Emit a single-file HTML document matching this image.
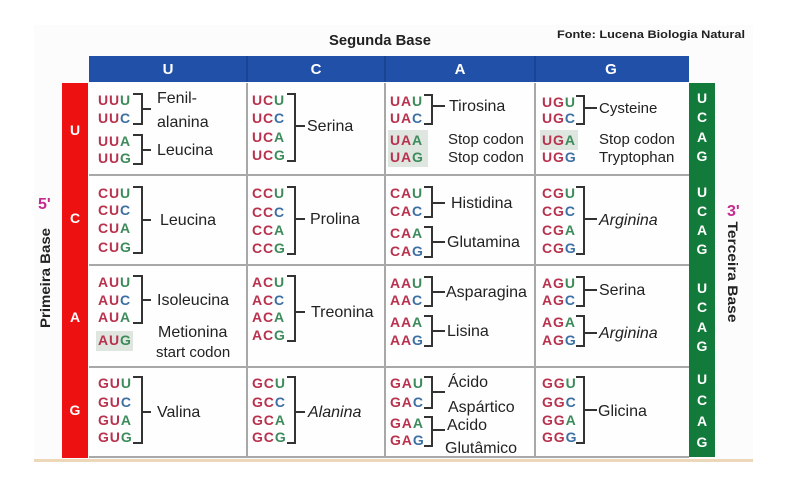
<!DOCTYPE html>
<html><head><meta charset="utf-8"><style>
html,body{margin:0;padding:0;background:#fff;}
svg{display:block;}
.c{font-family:"Liberation Sans",sans-serif;font-weight:bold;font-size:14px;letter-spacing:0.9px;}
.r{fill:#b8324e}.g{fill:#3d8b5b}.b{fill:#3c6fa3}
.n{font-family:"Liberation Sans",sans-serif;font-size:16px;fill:#222;}
.s{font-family:"Liberation Sans",sans-serif;font-size:15px;fill:#222;}
.w{font-family:"Liberation Sans",sans-serif;font-weight:bold;font-size:14px;fill:#fff;text-anchor:middle;}
.h{font-family:"Liberation Sans",sans-serif;font-weight:bold;font-size:15px;fill:#fff;text-anchor:middle;}
.br{fill:none;stroke:#333;stroke-width:2;}
</style></head><body>
<svg width="806" height="500" viewBox="0 0 806 500" xmlns="http://www.w3.org/2000/svg">
<rect x="0" y="0" width="806" height="500" fill="#fff"/>
<rect x="34" y="25" width="719" height="434" fill="#fcfcfc"/>
<rect x="89" y="83" width="600" height="375" fill="#fefefe"/>
<!-- header -->
<rect x="89" y="56" width="600" height="26" fill="#2150a8"/>
<line x1="247" y1="56" x2="247" y2="82" stroke="#183f8a" stroke-width="1.5"/>
<line x1="385" y1="56" x2="385" y2="82" stroke="#183f8a" stroke-width="1.5"/>
<line x1="535" y1="56" x2="535" y2="82" stroke="#183f8a" stroke-width="1.5"/>
<text class="h" x="168" y="74">U</text>
<text class="h" x="316" y="74">C</text>
<text class="h" x="460" y="74">A</text>
<text class="h" x="611" y="74">G</text>
<!-- grid -->
<g stroke="#a8a8a8" stroke-width="2">
<line x1="247" y1="83" x2="247" y2="458"/>
<line x1="385" y1="83" x2="385" y2="458"/>
<line x1="535" y1="83" x2="535" y2="458"/>
<line x1="89" y1="175" x2="689" y2="175"/>
<line x1="89" y1="265" x2="689" y2="265"/>
<line x1="89" y1="367" x2="689" y2="367"/>
<line x1="89" y1="457" x2="689" y2="457"/>
</g>
<!-- red bar -->
<rect x="62" y="83" width="26" height="375" fill="#ee1111"/>
<text class="w" x="75" y="135">U</text>
<text class="w" x="75" y="223">C</text>
<text class="w" x="75" y="322">A</text>
<text class="w" x="75" y="415">G</text>
<!-- green bar -->
<rect x="689" y="83" width="26" height="374" fill="#127a3a"/>
<text class="w" x="702" y="103">U</text><text class="w" x="702" y="122">C</text><text class="w" x="702" y="142">A</text><text class="w" x="702" y="161">G</text>
<text class="w" x="702" y="197">U</text><text class="w" x="702" y="216">C</text><text class="w" x="702" y="235">A</text><text class="w" x="702" y="254">G</text>
<text class="w" x="702" y="293">U</text><text class="w" x="702" y="312">C</text><text class="w" x="702" y="332">A</text><text class="w" x="702" y="351">G</text>
<text class="w" x="702" y="384">U</text><text class="w" x="702" y="405">C</text><text class="w" x="702" y="426">A</text><text class="w" x="702" y="447">G</text>
<!-- tan line -->
<rect x="34" y="459" width="719" height="3" fill="#ecd7b8"/>
<!-- titles -->
<text x="329" y="45" textLength="102" lengthAdjust="spacingAndGlyphs" style="font-family:'Liberation Sans',sans-serif;font-weight:bold;font-size:15px;fill:#222;">Segunda Base</text>
<text x="557" y="38" textLength="188" lengthAdjust="spacingAndGlyphs" style="font-family:'Liberation Sans',sans-serif;font-weight:bold;font-size:11px;fill:#222;">Fonte: Lucena Biologia Natural</text>
<text x="38" y="209" style="font-family:'Liberation Sans',sans-serif;font-weight:bold;font-size:16px;fill:#c42a8f;">5'</text>
<text x="727" y="216" style="font-family:'Liberation Sans',sans-serif;font-weight:bold;font-size:16px;fill:#c42a8f;">3'</text>
<text transform="translate(50,278) rotate(-90)" text-anchor="middle" textLength="100" lengthAdjust="spacingAndGlyphs" style="font-family:'Liberation Sans',sans-serif;font-weight:bold;font-size:14px;fill:#222;">Primeira Base</text>
<text transform="translate(728,272) rotate(90)" text-anchor="middle" textLength="101" lengthAdjust="spacingAndGlyphs" style="font-family:'Liberation Sans',sans-serif;font-weight:bold;font-size:14px;fill:#222;">Terceira Base</text>
<!-- shaded codon boxes -->
<rect x="388" y="130" width="40" height="37" fill="#dfe6e0"/>
<rect x="540" y="130" width="38" height="20" fill="#dfe6e0"/>
<rect x="96" y="331" width="37" height="20" fill="#dfe6e0"/>
<!-- codons col U -->
<text class="c" x="98" y="105"><tspan class="r">UU</tspan><tspan class="g">U</tspan></text>
<text class="c" x="98" y="123"><tspan class="r">UU</tspan><tspan class="b">C</tspan></text>
<text class="c" x="98" y="146"><tspan class="r">UU</tspan><tspan class="g">A</tspan></text>
<text class="c" x="98" y="163"><tspan class="r">UU</tspan><tspan class="g">G</tspan></text>
<text class="c" x="98" y="198"><tspan class="r">CU</tspan><tspan class="g">U</tspan></text>
<text class="c" x="98" y="215"><tspan class="r">CU</tspan><tspan class="b">C</tspan></text>
<text class="c" x="98" y="233"><tspan class="r">CU</tspan><tspan class="g">A</tspan></text>
<text class="c" x="98" y="252"><tspan class="r">CU</tspan><tspan class="g">G</tspan></text>
<text class="c" x="98" y="287"><tspan class="r">AU</tspan><tspan class="g">U</tspan></text>
<text class="c" x="98" y="305"><tspan class="r">AU</tspan><tspan class="b">C</tspan></text>
<text class="c" x="98" y="322"><tspan class="r">AU</tspan><tspan class="g">A</tspan></text>
<text class="c" x="98" y="345"><tspan class="r">AU</tspan><tspan class="g">G</tspan></text>
<text class="c" x="98" y="388"><tspan class="r">GU</tspan><tspan class="g">U</tspan></text>
<text class="c" x="98" y="407"><tspan class="r">GU</tspan><tspan class="b">C</tspan></text>
<text class="c" x="98" y="425"><tspan class="r">GU</tspan><tspan class="g">A</tspan></text>
<text class="c" x="98" y="442"><tspan class="r">GU</tspan><tspan class="g">G</tspan></text>
<!-- codons col C -->
<text class="c" x="252" y="105"><tspan class="r">UC</tspan><tspan class="g">U</tspan></text>
<text class="c" x="252" y="123"><tspan class="r">UC</tspan><tspan class="b">C</tspan></text>
<text class="c" x="252" y="142"><tspan class="r">UC</tspan><tspan class="g">A</tspan></text>
<text class="c" x="252" y="160"><tspan class="r">UC</tspan><tspan class="g">G</tspan></text>
<text class="c" x="252" y="198"><tspan class="r">CC</tspan><tspan class="g">U</tspan></text>
<text class="c" x="252" y="217"><tspan class="r">CC</tspan><tspan class="b">C</tspan></text>
<text class="c" x="252" y="235"><tspan class="r">CC</tspan><tspan class="g">A</tspan></text>
<text class="c" x="252" y="253"><tspan class="r">CC</tspan><tspan class="g">G</tspan></text>
<text class="c" x="252" y="287"><tspan class="r">AC</tspan><tspan class="g">U</tspan></text>
<text class="c" x="252" y="305"><tspan class="r">AC</tspan><tspan class="b">C</tspan></text>
<text class="c" x="252" y="322"><tspan class="r">AC</tspan><tspan class="g">A</tspan></text>
<text class="c" x="252" y="340"><tspan class="r">AC</tspan><tspan class="g">G</tspan></text>
<text class="c" x="252" y="388"><tspan class="r">GC</tspan><tspan class="g">U</tspan></text>
<text class="c" x="252" y="407"><tspan class="r">GC</tspan><tspan class="b">C</tspan></text>
<text class="c" x="252" y="425"><tspan class="r">GC</tspan><tspan class="g">A</tspan></text>
<text class="c" x="252" y="442"><tspan class="r">GC</tspan><tspan class="g">G</tspan></text>
<!-- codons col A -->
<text class="c" x="390" y="106"><tspan class="r">UA</tspan><tspan class="g">U</tspan></text>
<text class="c" x="390" y="123"><tspan class="r">UA</tspan><tspan class="b">C</tspan></text>
<text class="c" x="390" y="145"><tspan class="r">UA</tspan><tspan class="g">A</tspan></text>
<text class="c" x="390" y="162"><tspan class="r">UA</tspan><tspan class="g">G</tspan></text>
<text class="c" x="390" y="198"><tspan class="r">CA</tspan><tspan class="g">U</tspan></text>
<text class="c" x="390" y="216"><tspan class="r">CA</tspan><tspan class="b">C</tspan></text>
<text class="c" x="390" y="238"><tspan class="r">CA</tspan><tspan class="g">A</tspan></text>
<text class="c" x="390" y="256"><tspan class="r">CA</tspan><tspan class="b">G</tspan></text>
<text class="c" x="390" y="288"><tspan class="r">AA</tspan><tspan class="g">U</tspan></text>
<text class="c" x="390" y="305"><tspan class="r">AA</tspan><tspan class="b">C</tspan></text>
<text class="c" x="390" y="327"><tspan class="r">AA</tspan><tspan class="g">A</tspan></text>
<text class="c" x="390" y="345"><tspan class="r">AA</tspan><tspan class="b">G</tspan></text>
<text class="c" x="390" y="388"><tspan class="r">GA</tspan><tspan class="g">U</tspan></text>
<text class="c" x="390" y="407"><tspan class="r">GA</tspan><tspan class="b">C</tspan></text>
<text class="c" x="390" y="428"><tspan class="r">GA</tspan><tspan class="g">A</tspan></text>
<text class="c" x="390" y="445"><tspan class="r">GA</tspan><tspan class="b">G</tspan></text>
<!-- codons col G -->
<text class="c" x="542" y="107"><tspan class="r">UG</tspan><tspan class="g">U</tspan></text>
<text class="c" x="542" y="123"><tspan class="r">UG</tspan><tspan class="b">C</tspan></text>
<text class="c" x="542" y="145"><tspan class="r">UG</tspan><tspan class="g">A</tspan></text>
<text class="c" x="542" y="162"><tspan class="r">UG</tspan><tspan class="b">G</tspan></text>
<text class="c" x="542" y="198"><tspan class="r">CG</tspan><tspan class="g">U</tspan></text>
<text class="c" x="542" y="216"><tspan class="r">CG</tspan><tspan class="b">C</tspan></text>
<text class="c" x="542" y="235"><tspan class="r">CG</tspan><tspan class="g">A</tspan></text>
<text class="c" x="542" y="253"><tspan class="r">CG</tspan><tspan class="b">G</tspan></text>
<text class="c" x="542" y="288"><tspan class="r">AG</tspan><tspan class="g">U</tspan></text>
<text class="c" x="542" y="305"><tspan class="r">AG</tspan><tspan class="b">C</tspan></text>
<text class="c" x="542" y="327"><tspan class="r">AG</tspan><tspan class="g">A</tspan></text>
<text class="c" x="542" y="345"><tspan class="r">AG</tspan><tspan class="b">G</tspan></text>
<text class="c" x="542" y="388"><tspan class="r">GG</tspan><tspan class="g">U</tspan></text>
<text class="c" x="542" y="407"><tspan class="r">GG</tspan><tspan class="b">C</tspan></text>
<text class="c" x="542" y="425"><tspan class="r">GG</tspan><tspan class="g">A</tspan></text>
<text class="c" x="542" y="442"><tspan class="r">GG</tspan><tspan class="b">G</tspan></text>
<!-- brackets -->
<path class="br" d="M133 94H142V124H133M142 109H151"/>
<path class="br" d="M133 135H142V164H133M142 150H151"/>
<path class="br" d="M133 187H142V253H133M142 220H151"/>
<path class="br" d="M133 276H142V323H133M142 300H151"/>
<path class="br" d="M133 377H142V443H133M142 412H151"/>
<path class="br" d="M287 94H295V161H287M295 126H305"/>
<path class="br" d="M287 187H295V254H287M295 219H305"/>
<path class="br" d="M287 276H295V341H287M295 312H305"/>
<path class="br" d="M287 377H295V443H287M295 412H305"/>
<path class="br" d="M424 95H432V124H424M432 106H445"/>
<path class="br" d="M424 187H432V217H424M432 203H445"/>
<path class="br" d="M424 227H432V257H424M432 242H445"/>
<path class="br" d="M424 277H432V306H424M432 292H445"/>
<path class="br" d="M424 316H432V346H424M432 331H445"/>
<path class="br" d="M424 377H432V408H424M432 392H445"/>
<path class="br" d="M424 417H432V446H424M432 430H445"/>
<path class="br" d="M576 96H584V124H576M584 108H597"/>
<path class="br" d="M576 187H584V254H576M584 219H597"/>
<path class="br" d="M576 277H584V306H576M584 290H597"/>
<path class="br" d="M576 316H584V346H576M584 333H597"/>
<path class="br" d="M576 377H584V443H576M584 410H597"/>
<!-- names -->
<text class="n" x="157" y="103">Fenil-</text>
<text class="n" x="157" y="127">alanina</text>
<text class="n" x="157" y="155">Leucina</text>
<text class="n" x="307" y="131">Serina</text>
<text class="n" x="449" y="111">Tirosina</text>
<text class="s" x="448" y="144">Stop codon</text>
<text class="s" x="448" y="162">Stop codon</text>
<text class="s" x="599" y="113">Cysteine</text>
<text class="s" x="599" y="144">Stop codon</text>
<text class="s" x="599" y="162">Tryptophan</text>
<text class="n" x="160" y="225">Leucina</text>
<text class="n" x="310" y="224">Prolina</text>
<text class="n" x="451" y="208">Histidina</text>
<text class="n" x="447" y="247">Glutamina</text>
<text class="n" x="599" y="225" font-style="italic">Arginina</text>
<text class="n" x="157" y="305">Isoleucina</text>
<text class="n" x="158" y="337">Metionina</text>
<text class="s" x="156" y="357">start codon</text>
<text class="n" x="311" y="317">Treonina</text>
<text class="n" x="446" y="297">Asparagina</text>
<text class="n" x="447" y="336">Lisina</text>
<text class="n" x="599" y="295">Serina</text>
<text class="n" x="599" y="338" font-style="italic">Arginina</text>
<text class="n" x="157" y="417">Valina</text>
<text class="n" x="308" y="417" font-style="italic">Alanina</text>
<text class="n" x="448" y="387">Ácido</text>
<text class="n" x="448" y="412">Aspártico</text>
<text class="n" x="447" y="430">Acido</text>
<text class="n" x="445" y="453">Glutâmico</text>
<text class="n" x="598" y="416">Glicina</text>
</svg>
</body></html>
